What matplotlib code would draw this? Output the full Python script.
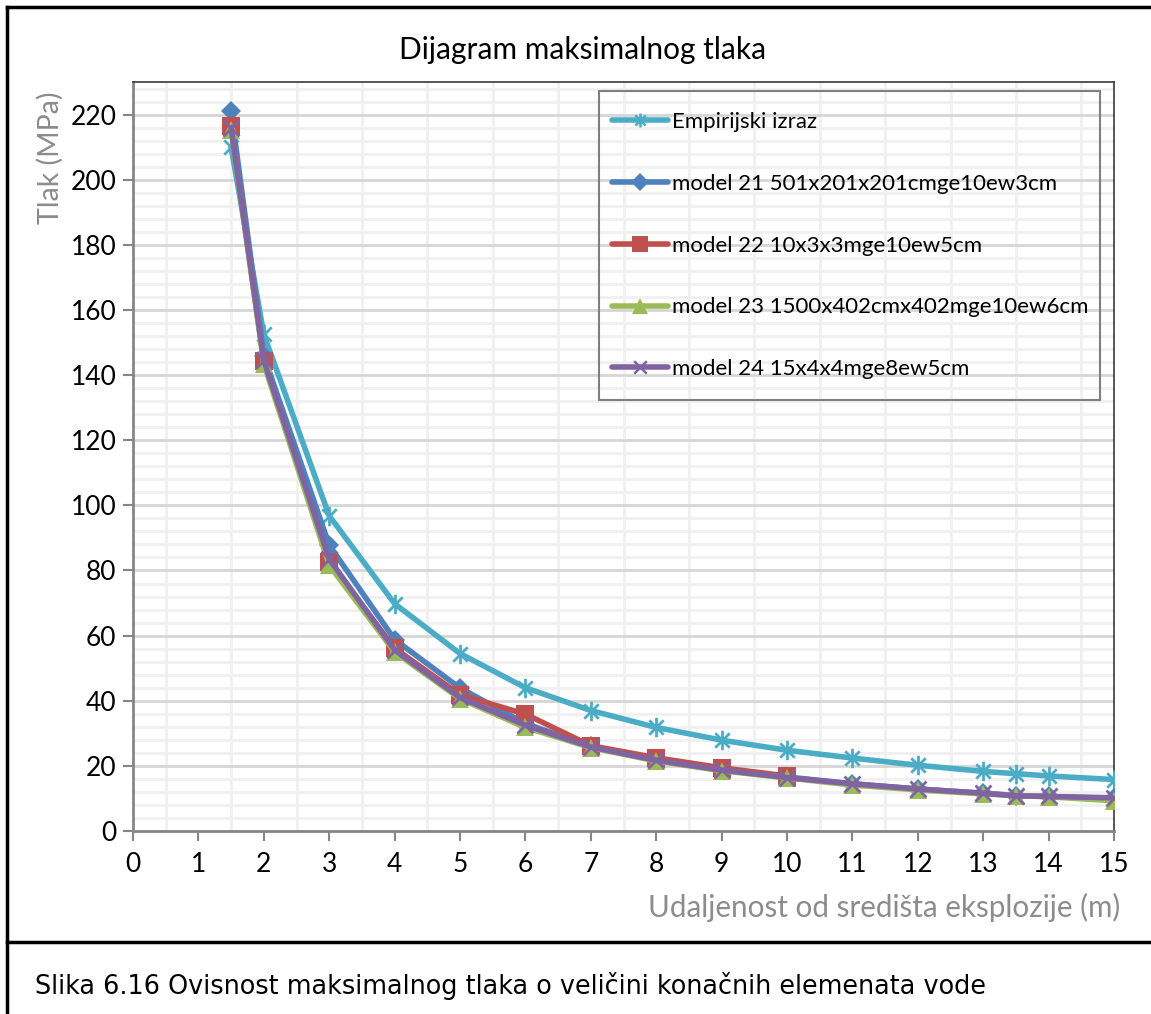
import matplotlib
matplotlib.use("Agg")
import matplotlib.pyplot as plt
from matplotlib.path import Path
from matplotlib.lines import Line2D
from matplotlib.patches import Rectangle
import numpy as np

plt.rcParams['font.family'] = ['Lato', 'DejaVu Sans']

# ---------------- data ----------------
x_emp = [1.5, 2, 3, 4, 5, 6, 7, 8, 9, 10, 11, 12, 13, 13.5, 14, 15]
y_emp = [210, 152.5, 96.8, 69.8, 54.5, 44.0, 37.0, 31.8, 27.9, 24.8, 22.4, 20.2, 18.3, 17.6, 16.9, 15.8]

x_m21 = [1.5, 2, 3, 4, 5, 6, 7, 8, 9, 10, 11, 12, 13, 13.5, 14, 15]
y_m21 = [221.2, 146, 87.8, 58.8, 43.9, 33.0, 26.0, 22.0, 19.0, 16.6, 14.5, 12.9, 11.6, 10.9, 10.6, 10.0]

x_m22 = [1.5, 2, 3, 4, 5, 6, 7, 8, 9, 10]
y_m22 = [216.4, 144.2, 82.7, 56.1, 41.8, 35.9, 26.2, 22.5, 19.4, 16.9]

x_m23 = [1.5, 2, 3, 4, 5, 6, 7, 8, 9, 10, 11, 12, 13, 13.5, 14, 15]
y_m23 = [215.4, 143.5, 81.6, 55.0, 40.6, 31.8, 25.6, 21.5, 18.5, 16.3, 14.1, 12.6, 11.4, 10.9, 10.5, 9.3]

x_m24 = [1.5, 2, 3, 4, 5, 6, 7, 8, 9, 10, 11, 12, 13, 13.5, 14, 15]
y_m24 = [216.0, 144.5, 83.5, 55.6, 41.0, 32.5, 25.8, 21.7, 18.7, 16.4, 14.5, 12.9, 11.6, 10.8, 10.6, 10.2]

labels = ["Empirijski izraz",
          "model 21 501x201x201cmge10ew3cm",
          "model 22 10x3x3mge10ew5cm",
          "model 23 1500x402cmx402mge10ew6cm",
          "model 24 15x4x4mge8ew5cm"]

title = "Dijagram maksimalnog tlaka"
xlabel = "Udaljenost od središta eksplozije (m)"
ylabel = "Tlak (MPa)"
caption = "Slika 6.16 Ovisnost maksimalnog tlaka o veličini konačnih elemenata vode"

colors = ["#4BACC6", "#4F81BD", "#C0504D", "#9BBB59", "#8064A2"]

# --------------- figure ----------------
W, H = 1151, 1014
fig = plt.figure(figsize=(W / 100, H / 100), dpi=100)
fig.patch.set_facecolor("white")

L, R, T, B = 133, 1114, 82, 831
ax = fig.add_axes([L / W, 1 - B / H, (R - L) / W, (B - T) / H])
ax.set_xlim(0, 15)
ax.set_ylim(0, 230)

# gridlines
ax.set_yticks(np.arange(0, 221, 20))
ax.set_yticks(np.arange(0, 230, 4), minor=True)
ax.set_xticks(np.arange(0, 16, 1))
ax.set_xticks(np.arange(0, 15.01, 0.5), minor=True)
ax.grid(which="minor", axis="both", color="#f0f0f0", linewidth=2.0, zorder=0)
ax.grid(which="major", axis="y", color="#d6d6d6", linewidth=2.0, zorder=0.5)
ax.set_axisbelow(True)
ax.tick_params(which="minor", length=0)
ax.tick_params(which="major", length=7, width=1.5, color="#868686",
               labelsize=19, labelcolor="black", direction="out", pad=5)
ax.tick_params(axis="x", pad=8)

for s in ["left", "bottom"]:
    ax.spines[s].set_color("#868686")
    ax.spines[s].set_linewidth(2)
for s in ["top", "right"]:
    ax.spines[s].set_color("#3a3a3a")
    ax.spines[s].set_linewidth(1.2)

# asterisk marker (x + vertical bar)
star = Path([(-1, -1), (1, 1), (-1, 1), (1, -1), (0, -1.35), (0, 1.35)],
            [Path.MOVETO, Path.LINETO, Path.MOVETO, Path.LINETO, Path.MOVETO, Path.LINETO])
xmark = Path([(-1, -1), (1, 1), (-1, 1), (1, -1)],
             [Path.MOVETO, Path.LINETO, Path.MOVETO, Path.LINETO])

lw = 4.0
ax.plot(x_emp, y_emp, color=colors[0], lw=lw, marker=star, markersize=14,
        markeredgewidth=2, markerfacecolor="none", markeredgecolor=colors[0],
        solid_joinstyle="round", zorder=3)
ax.plot(x_m21, y_m21, color=colors[1], lw=lw, marker="D", markersize=10.5,
        markeredgewidth=0, solid_joinstyle="round", zorder=4)
ax.plot(x_m22, y_m22, color=colors[2], lw=lw, marker="s", markersize=12.5,
        markeredgewidth=0, solid_joinstyle="round", zorder=5)
ax.plot(x_m23, y_m23, color=colors[3], lw=lw, marker="^", markersize=13.5,
        markeredgewidth=0, solid_joinstyle="round", zorder=6)
ax.plot(x_m24, y_m24, color=colors[4], lw=lw, marker=xmark, markersize=11.5,
        markeredgewidth=2, markerfacecolor="none", markeredgecolor=colors[4],
        solid_joinstyle="round", zorder=7)

# legend
handles = [
    Line2D([], [], color=colors[0], lw=lw, marker=star, markersize=10,
           markeredgewidth=1.8, markeredgecolor=colors[0], markerfacecolor="none",
           solid_capstyle="round"),
    Line2D([], [], color=colors[1], lw=lw, marker="D", markersize=9, markeredgewidth=0,
           solid_capstyle="round"),
    Line2D([], [], color=colors[2], lw=lw, marker="s", markersize=11, markeredgewidth=0,
           solid_capstyle="round"),
    Line2D([], [], color=colors[3], lw=lw, marker="^", markersize=11, markeredgewidth=0,
           solid_capstyle="round"),
    Line2D([], [], color=colors[4], lw=lw, marker=xmark, markersize=9,
           markeredgewidth=1.8, markeredgecolor=colors[4], markerfacecolor="none",
           solid_capstyle="round"),
]
leg = fig.legend(handles, labels, loc="upper left",
                 bbox_to_anchor=(612 / W, 1 - 112 / H), bbox_transform=fig.transFigure,
                 fontsize=16, frameon=False,
                 borderpad=0, labelspacing=1.88, handlelength=2.52,
                 handletextpad=0.18, borderaxespad=0)
fig.add_artist(Rectangle((599 / W, 1 - 400 / H), (1100 - 599) / W, (400 - 91) / H,
                         transform=fig.transFigure, fill=False,
                         edgecolor="#7f7f7f", linewidth=1.5))

# texts
fig.text(583 / W, 1 - 50 / H, title, ha="center", va="center", fontsize=21.5, color="black")
fig.text(50 / W, 1 - 91 / H, ylabel, rotation=90, ha="center", va="top",
         fontsize=20.5, color="#8c8c8c")
fig.text(1120 / W, 1 - 907 / H, xlabel, ha="right", va="center",
         fontsize=21.3, color="#8c8c8c")
fig.text(35 / W, 1 - 986 / H, caption, ha="left", va="center",
         fontsize=18.4, color="black", family="DejaVu Sans")

# frame lines
fig.add_artist(Line2D([7 / W, 7 / W], [0, 1 - 7 / H], transform=fig.transFigure,
                      color="black", lw=2.5))
fig.add_artist(Line2D([7 / W, 1], [1 - 7 / H, 1 - 7 / H], transform=fig.transFigure,
                      color="black", lw=2.5))
fig.add_artist(Line2D([7 / W, 1], [1 - 942 / H, 1 - 942 / H], transform=fig.transFigure,
                      color="black", lw=2.5))

fig.savefig("out.png", dpi=100, facecolor="white")
